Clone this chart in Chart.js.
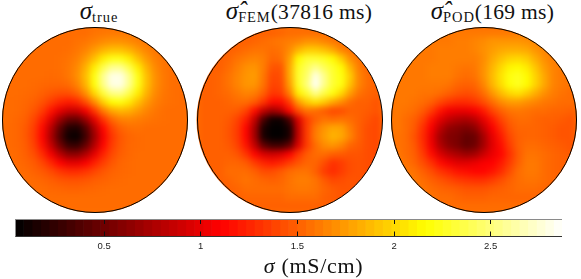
<!DOCTYPE html>
<html>
<head>
<meta charset="utf-8">
<title>Conductivity reconstructions</title>
<script src="https://cdn.jsdelivr.net/npm/chart.js@4"></script>
<style>
  html, body { margin: 0; padding: 0; background: #fff; }
  #page { position: relative; width: 581px; height: 279px; overflow: hidden; font-family: "Liberation Serif", serif; color: #111; }
  .disc { position: absolute; top: 15px; width: 210px; height: 210px; clip-path: circle(93px at 105px 105px); }
  .disc canvas { background: #ff7000; filter: blur(3.1px); }
  .rim { position: absolute; top: 27px; width: 186px; height: 186px; box-sizing: border-box; border: 1.6px solid #000; border-radius: 50%; }
  .title { position: absolute; top: -2px; font-size: 21.5px; line-height: 26px; white-space: nowrap; transform: translateX(-50%); letter-spacing: 0.3px; }
  .title i { font-size: 25px; letter-spacing: 0; }
  .title sub { font-size: 14.5px; vertical-align: -3px; line-height: 0; letter-spacing: 0.9px; }
  #barBox { position: absolute; left: 0; top: 210px; width: 581px; height: 50px; }
  #barEdge { position: absolute; left: 15px; top: 219px; width: 547px; height: 18px; box-sizing: border-box; border-top: 1px solid #8a8a8a; border-left: 1px solid #8a8a8a; border-bottom: 1px solid #333; }
  #barLabel { position: absolute; left: 313.5px; top: 254px; font-size: 22px; line-height: 24px; white-space: nowrap; transform: translateX(-50%); letter-spacing: 0.7px; }
</style>
</head>
<body>
<div id="page">
  <div class="title" style="left:99px"><i>σ</i><sub>true</sub></div>
  <div class="title" style="left:299px"><i>σ̂</i><sub>FEM</sub>(37816 ms)</div>
  <div class="title" style="left:492.5px"><i>σ̂</i><sub>POD</sub>(169 ms)</div>

  <div class="disc" style="left:-10px"><canvas id="mapTrue" width="210" height="210"></canvas></div>
  <div class="disc" style="left:184.5px"><canvas id="mapFem" width="210" height="210"></canvas></div>
  <div class="disc" style="left:379px"><canvas id="mapPod" width="210" height="210"></canvas></div>
  <div class="rim" style="left:2px"></div>
  <div class="rim" style="left:196.5px"></div>
  <div class="rim" style="left:391px"></div>

  <div id="barBox"><canvas id="colorBar" width="581" height="50"></canvas></div>
  <div id="barEdge"></div>
  <div id="barLabel"><i>σ</i> (mS/cm)</div>
</div>

<script>
  // grid positions, normalised to the disc radius
  const gridX = [-1, -0.9, -0.8, -0.7, -0.6, -0.5, -0.4, -0.3, -0.2, -0.1, 0, 0.1, 0.2, 0.3, 0.4, 0.5, 0.6, 0.7, 0.8, 0.9, 1];
  const gridY = [1, 0.9, 0.8, 0.7, 0.6, 0.5, 0.4, 0.3, 0.2, 0.1, 0, -0.1, -0.2, -0.3, -0.4, -0.5, -0.6, -0.7, -0.8, -0.9, -1];

  // conductivity, one row per gridY
  const sigmaTrue = [
    [1.55,1.55,1.55,1.55,1.55,1.55,1.55,1.55,1.55,1.55,1.58,1.59,1.60,1.60,1.59,1.58,1.56,1.56,1.55,1.55,1.55],
    [1.55,1.55,1.55,1.55,1.55,1.55,1.55,1.55,1.57,1.59,1.63,1.67,1.70,1.70,1.67,1.63,1.59,1.57,1.56,1.55,1.55],
    [1.55,1.55,1.55,1.55,1.55,1.55,1.55,1.56,1.59,1.65,1.74,1.84,1.90,1.90,1.84,1.74,1.65,1.59,1.56,1.55,1.55],
    [1.55,1.55,1.55,1.55,1.55,1.55,1.56,1.58,1.63,1.74,1.90,2.09,2.22,2.22,2.09,1.90,1.74,1.63,1.58,1.56,1.55],
    [1.55,1.55,1.55,1.55,1.55,1.55,1.56,1.59,1.67,1.84,2.09,2.37,2.56,2.56,2.37,2.09,1.84,1.67,1.59,1.56,1.55],
    [1.55,1.55,1.55,1.55,1.55,1.54,1.55,1.59,1.69,1.89,2.21,2.56,2.80,2.80,2.56,2.22,1.90,1.70,1.60,1.56,1.55],
    [1.55,1.55,1.55,1.54,1.53,1.52,1.52,1.54,1.64,1.85,2.19,2.54,2.79,2.80,2.56,2.22,1.90,1.70,1.60,1.56,1.55],
    [1.55,1.55,1.54,1.53,1.50,1.46,1.43,1.43,1.51,1.70,2.00,2.32,2.53,2.55,2.37,2.09,1.84,1.67,1.59,1.56,1.55],
    [1.55,1.54,1.53,1.50,1.44,1.35,1.26,1.21,1.26,1.43,1.68,1.97,2.16,2.20,2.08,1.90,1.74,1.63,1.58,1.56,1.55],
    [1.55,1.54,1.52,1.46,1.35,1.18,0.99,0.88,0.89,1.06,1.33,1.61,1.79,1.86,1.83,1.74,1.65,1.59,1.56,1.55,1.55],
    [1.55,1.53,1.50,1.40,1.23,0.97,0.68,0.48,0.46,0.67,0.99,1.31,1.53,1.63,1.65,1.62,1.59,1.57,1.56,1.55,1.55],
    [1.54,1.53,1.48,1.36,1.14,0.81,0.44,0.18,0.15,0.37,0.76,1.12,1.38,1.51,1.56,1.57,1.55,1.55,1.55,1.55,1.55],
    [1.54,1.53,1.48,1.35,1.12,0.76,0.37,0.10,0.07,0.30,0.69,1.06,1.32,1.46,1.52,1.54,1.55,1.55,1.55,1.55,1.55],
    [1.54,1.53,1.49,1.38,1.17,0.86,0.52,0.28,0.26,0.46,0.79,1.12,1.35,1.47,1.53,1.54,1.55,1.55,1.55,1.55,1.55],
    [1.55,1.54,1.50,1.43,1.28,1.06,0.81,0.63,0.62,0.77,1.00,1.24,1.40,1.49,1.53,1.55,1.55,1.55,1.55,1.55,1.55],
    [1.55,1.54,1.52,1.48,1.39,1.26,1.11,1.00,0.99,1.08,1.23,1.36,1.46,1.52,1.54,1.55,1.55,1.55,1.55,1.55,1.55],
    [1.55,1.55,1.54,1.51,1.47,1.41,1.33,1.28,1.28,1.32,1.39,1.46,1.51,1.53,1.54,1.55,1.55,1.55,1.55,1.55,1.55],
    [1.55,1.55,1.55,1.54,1.52,1.49,1.46,1.44,1.44,1.46,1.49,1.51,1.53,1.54,1.55,1.55,1.55,1.55,1.55,1.55,1.55],
    [1.55,1.55,1.55,1.55,1.55,1.53,1.52,1.51,1.51,1.52,1.53,1.54,1.55,1.55,1.55,1.55,1.55,1.55,1.55,1.55,1.55],
    [1.55,1.55,1.55,1.55,1.55,1.55,1.55,1.55,1.55,1.55,1.55,1.55,1.55,1.55,1.55,1.55,1.55,1.55,1.55,1.55,1.55],
    [1.55,1.55,1.55,1.55,1.55,1.55,1.55,1.55,1.55,1.55,1.55,1.55,1.55,1.55,1.55,1.55,1.55,1.55,1.55,1.55,1.55]
  ];

  const sigmaFem = [
    [1.50,1.50,1.50,1.50,1.50,1.50,1.50,1.50,1.50,1.52,1.55,1.55,1.55,1.55,1.55,1.52,1.50,1.50,1.50,1.50,1.50],
    [1.50,1.50,1.50,1.50,1.50,1.50,1.52,1.55,1.58,1.60,1.62,1.65,1.70,1.70,1.65,1.60,1.55,1.50,1.50,1.50,1.50],
    [1.50,1.50,1.50,1.50,1.52,1.55,1.58,1.58,1.55,1.58,1.68,1.85,1.95,1.95,1.90,1.80,1.65,1.58,1.50,1.50,1.50],
    [1.50,1.50,1.50,1.52,1.58,1.62,1.65,1.62,1.52,1.55,1.75,2.15,2.30,2.30,2.25,2.15,1.95,1.70,1.58,1.50,1.50],
    [1.50,1.50,1.50,1.55,1.62,1.70,1.72,1.62,1.45,1.45,1.80,2.25,2.40,2.55,2.40,2.28,2.15,1.85,1.62,1.52,1.50],
    [1.50,1.50,1.52,1.58,1.65,1.72,1.75,1.60,1.40,1.42,1.80,2.28,2.45,2.80,2.55,2.30,2.20,1.95,1.65,1.55,1.50],
    [1.50,1.50,1.52,1.58,1.65,1.72,1.72,1.58,1.38,1.40,1.75,2.25,2.50,2.85,2.55,2.30,2.20,1.90,1.65,1.55,1.50],
    [1.50,1.50,1.52,1.55,1.60,1.65,1.62,1.50,1.32,1.35,1.62,2.10,2.30,2.55,2.35,2.20,2.00,1.75,1.58,1.52,1.50],
    [1.50,1.50,1.50,1.52,1.55,1.55,1.48,1.32,1.15,1.15,1.35,1.75,1.95,2.05,1.95,1.80,1.68,1.55,1.50,1.50,1.45],
    [1.50,1.50,1.50,1.50,1.48,1.38,1.15,0.85,0.70,0.80,1.12,1.42,1.58,1.55,1.48,1.40,1.42,1.50,1.50,1.48,1.45],
    [1.50,1.50,1.50,1.47,1.38,1.22,0.85,0.35,0.10,0.10,0.35,0.95,1.35,1.50,1.58,1.55,1.58,1.55,1.50,1.45,1.40],
    [1.50,1.50,1.50,1.45,1.35,1.12,0.72,0.15,0.05,0.05,0.15,0.85,1.35,1.60,1.72,1.80,1.78,1.62,1.50,1.42,1.40],
    [1.50,1.50,1.50,1.45,1.35,1.12,0.72,0.15,0.05,0.05,0.15,0.85,1.35,1.62,1.75,1.85,1.80,1.65,1.50,1.42,1.40],
    [1.50,1.50,1.50,1.47,1.38,1.18,0.85,0.45,0.30,0.30,0.45,0.95,1.35,1.55,1.68,1.72,1.65,1.52,1.48,1.42,1.40],
    [1.50,1.50,1.50,1.50,1.45,1.32,1.12,0.95,0.90,0.95,1.10,1.32,1.48,1.55,1.55,1.50,1.48,1.45,1.45,1.42,1.40],
    [1.50,1.50,1.50,1.52,1.52,1.48,1.35,1.25,1.20,1.25,1.35,1.45,1.52,1.52,1.42,1.30,1.35,1.42,1.44,1.42,1.40],
    [1.50,1.50,1.50,1.55,1.55,1.55,1.50,1.42,1.42,1.48,1.55,1.58,1.58,1.50,1.35,1.28,1.35,1.42,1.44,1.42,1.40],
    [1.50,1.50,1.50,1.52,1.55,1.58,1.55,1.52,1.50,1.52,1.58,1.62,1.62,1.58,1.48,1.40,1.42,1.45,1.44,1.42,1.40],
    [1.50,1.50,1.50,1.50,1.52,1.55,1.55,1.55,1.55,1.55,1.58,1.60,1.60,1.58,1.52,1.48,1.45,1.45,1.42,1.42,1.40],
    [1.50,1.50,1.50,1.50,1.50,1.52,1.52,1.52,1.52,1.52,1.55,1.55,1.55,1.55,1.50,1.48,1.45,1.45,1.42,1.42,1.40],
    [1.50,1.50,1.50,1.50,1.50,1.50,1.50,1.50,1.50,1.50,1.50,1.50,1.50,1.50,1.50,1.48,1.45,1.45,1.42,1.42,1.40]
  ];

  const sigmaPod = [
    [1.60,1.60,1.60,1.60,1.60,1.60,1.60,1.60,1.60,1.60,1.60,1.60,1.60,1.60,1.60,1.60,1.60,1.60,1.60,1.60,1.60],
    [1.60,1.60,1.60,1.60,1.60,1.60,1.60,1.62,1.62,1.65,1.68,1.72,1.72,1.72,1.72,1.70,1.65,1.62,1.60,1.60,1.60],
    [1.60,1.60,1.60,1.60,1.60,1.62,1.62,1.62,1.62,1.65,1.70,1.75,1.80,1.82,1.82,1.80,1.72,1.65,1.60,1.60,1.60],
    [1.60,1.60,1.60,1.60,1.60,1.62,1.62,1.62,1.62,1.62,1.68,1.80,1.90,1.98,2.00,1.95,1.82,1.70,1.62,1.60,1.60],
    [1.60,1.60,1.60,1.60,1.62,1.62,1.62,1.60,1.58,1.60,1.70,1.85,2.00,2.12,2.15,2.08,1.92,1.75,1.65,1.60,1.60],
    [1.60,1.60,1.60,1.60,1.62,1.62,1.62,1.58,1.55,1.58,1.70,1.88,2.05,2.20,2.25,2.15,1.98,1.80,1.65,1.60,1.58],
    [1.60,1.60,1.60,1.60,1.60,1.60,1.58,1.52,1.50,1.52,1.65,1.85,2.02,2.18,2.25,2.15,1.98,1.80,1.65,1.60,1.58],
    [1.60,1.60,1.60,1.58,1.58,1.55,1.50,1.45,1.42,1.45,1.55,1.72,1.88,2.00,2.05,1.95,1.82,1.70,1.62,1.58,1.55],
    [1.60,1.60,1.58,1.55,1.50,1.40,1.32,1.28,1.28,1.32,1.42,1.55,1.68,1.75,1.75,1.70,1.65,1.60,1.58,1.55,1.55],
    [1.60,1.58,1.55,1.48,1.35,1.18,1.05,1.02,1.02,1.08,1.20,1.38,1.50,1.58,1.60,1.58,1.55,1.55,1.52,1.52,1.50],
    [1.60,1.55,1.50,1.38,1.18,0.98,0.85,0.78,0.75,0.82,1.00,1.20,1.38,1.50,1.55,1.55,1.52,1.50,1.50,1.48,1.45],
    [1.60,1.55,1.48,1.30,1.08,0.82,0.65,0.60,0.55,0.62,0.85,1.08,1.28,1.45,1.52,1.52,1.52,1.50,1.48,1.45,1.45],
    [1.58,1.55,1.45,1.28,1.02,0.72,0.58,0.55,0.45,0.48,0.72,1.00,1.20,1.40,1.50,1.52,1.52,1.50,1.48,1.45,1.45],
    [1.58,1.55,1.48,1.30,1.05,0.78,0.62,0.55,0.45,0.50,0.72,0.98,1.15,1.35,1.50,1.55,1.55,1.52,1.50,1.48,1.45],
    [1.60,1.55,1.50,1.35,1.15,0.95,0.82,0.75,0.68,0.72,0.88,1.02,1.12,1.30,1.48,1.58,1.58,1.55,1.52,1.50,1.48],
    [1.60,1.58,1.52,1.42,1.30,1.15,1.05,0.98,0.98,1.02,1.08,1.10,1.20,1.35,1.50,1.60,1.60,1.55,1.52,1.50,1.50],
    [1.60,1.60,1.58,1.50,1.42,1.32,1.25,1.18,1.15,1.12,1.12,1.18,1.28,1.42,1.55,1.60,1.60,1.55,1.52,1.50,1.50],
    [1.60,1.60,1.60,1.55,1.50,1.45,1.40,1.35,1.32,1.30,1.30,1.35,1.42,1.50,1.55,1.58,1.58,1.55,1.52,1.50,1.50],
    [1.60,1.60,1.60,1.58,1.55,1.52,1.50,1.48,1.45,1.45,1.45,1.48,1.50,1.52,1.55,1.55,1.55,1.52,1.50,1.50,1.50],
    [1.60,1.60,1.60,1.60,1.58,1.55,1.55,1.52,1.50,1.50,1.50,1.52,1.52,1.52,1.52,1.52,1.52,1.50,1.50,1.50,1.50],
    [1.55,1.55,1.55,1.55,1.55,1.55,1.55,1.55,1.55,1.55,1.55,1.55,1.55,1.55,1.55,1.55,1.55,1.55,1.55,1.55,1.55]
  ];

  // colour bar: edges of the 64 steps, and its tick labels
  const barEdges = [0.039,0.083,0.127,0.172,0.216,0.260,0.304,0.349,0.393,0.437,0.481,0.525,0.570,0.614,0.658,0.702,0.747,0.791,0.835,0.879,0.923,0.968,1.012,1.056,1.100,1.145,1.189,1.233,1.277,1.321,1.366,1.410,1.454,1.498,1.543,1.587,1.631,1.675,1.719,1.764,1.808,1.852,1.896,1.941,1.985,2.029,2.073,2.117,2.162,2.206,2.250,2.294,2.339,2.383,2.427,2.471,2.515,2.560,2.604,2.648,2.692,2.737,2.781,2.825,2.869];
  const barTicks = [0.5, 1, 1.5, 2, 2.5];

  const SIGMA_MIN = 0.039;
  const SIGMA_MAX = 2.869;

  // matlab "hot" colormap
  function hot(v) {
    const t = Math.min(1, Math.max(0, (v - SIGMA_MIN) / (SIGMA_MAX - SIGMA_MIN)));
    const r = Math.min(1, t / 0.375);
    const g = Math.min(1, Math.max(0, (t - 0.375) / 0.375));
    const b = Math.max(0, (t - 0.75) / 0.25);
    return `rgb(${Math.round(r * 255)},${Math.round(g * 255)},${Math.round(b * 255)})`;
  }

  function drawMap(id, grid) {
    const points = [];
    gridY.forEach((y, j) => gridX.forEach((x, i) => points.push({ x, y, v: grid[j][i] })));

    new Chart(document.getElementById(id), {
      type: "scatter",
      data: {
        datasets: [{
          data: points,
          pointStyle: "rect",
          pointRadius: 7,
          pointHoverRadius: 7,
          borderWidth: 0,
          backgroundColor: (c) => hot(c.raw ? c.raw.v : 1.5)
        }]
      },
      options: {
        responsive: false,
        animation: false,
        events: [],
        layout: { padding: 0 },
        plugins: { legend: { display: false }, tooltip: { enabled: false } },
        scales: {
          x: { type: "linear", display: false, min: -1.129, max: 1.129 },
          y: { type: "linear", display: false, min: -1.129, max: 1.129 }
        }
      }
    });
  }

  function drawColorBar() {
    const steps = barEdges.slice(0, -1).map((lo, i) => ({
      data: [[lo, barEdges[i + 1]]],
      backgroundColor: hot((lo + barEdges[i + 1]) / 2),
      borderWidth: 0,
      barPercentage: 1,
      categoryPercentage: 1,
      grouped: false
    }));

    new Chart(document.getElementById("colorBar"), {
      type: "bar",
      data: { labels: ["sigma"], datasets: steps },
      options: {
        indexAxis: "y",
        responsive: false,
        animation: false,
        events: [],
        layout: { padding: { left: 15, right: 19, top: 9, bottom: 0 } },
        plugins: { legend: { display: false }, tooltip: { enabled: false } },
        scales: {
          x: {
            type: "linear",
            min: SIGMA_MIN,
            max: SIGMA_MAX,
            afterBuildTicks: (s) => { s.ticks = barTicks.map((value) => ({ value })); },
            afterFit: (s) => { s.height = 23; },
            border: { display: false, dash: [5, 7.5] },
            grid: { z: 1, color: "#111", lineWidth: 1, drawTicks: false },
            ticks: {
              color: "#222",
              padding: 4,
              maxRotation: 0,
              font: { family: "Liberation Sans", size: 9.5 },
              callback: (v) => String(v)
            }
          },
          y: { display: false }
        }
      }
    });
  }

  document.addEventListener("DOMContentLoaded", () => {
    drawMap("mapTrue", sigmaTrue);
    drawMap("mapFem", sigmaFem);
    drawMap("mapPod", sigmaPod);
    drawColorBar();
  });
</script>
</body>
</html>
